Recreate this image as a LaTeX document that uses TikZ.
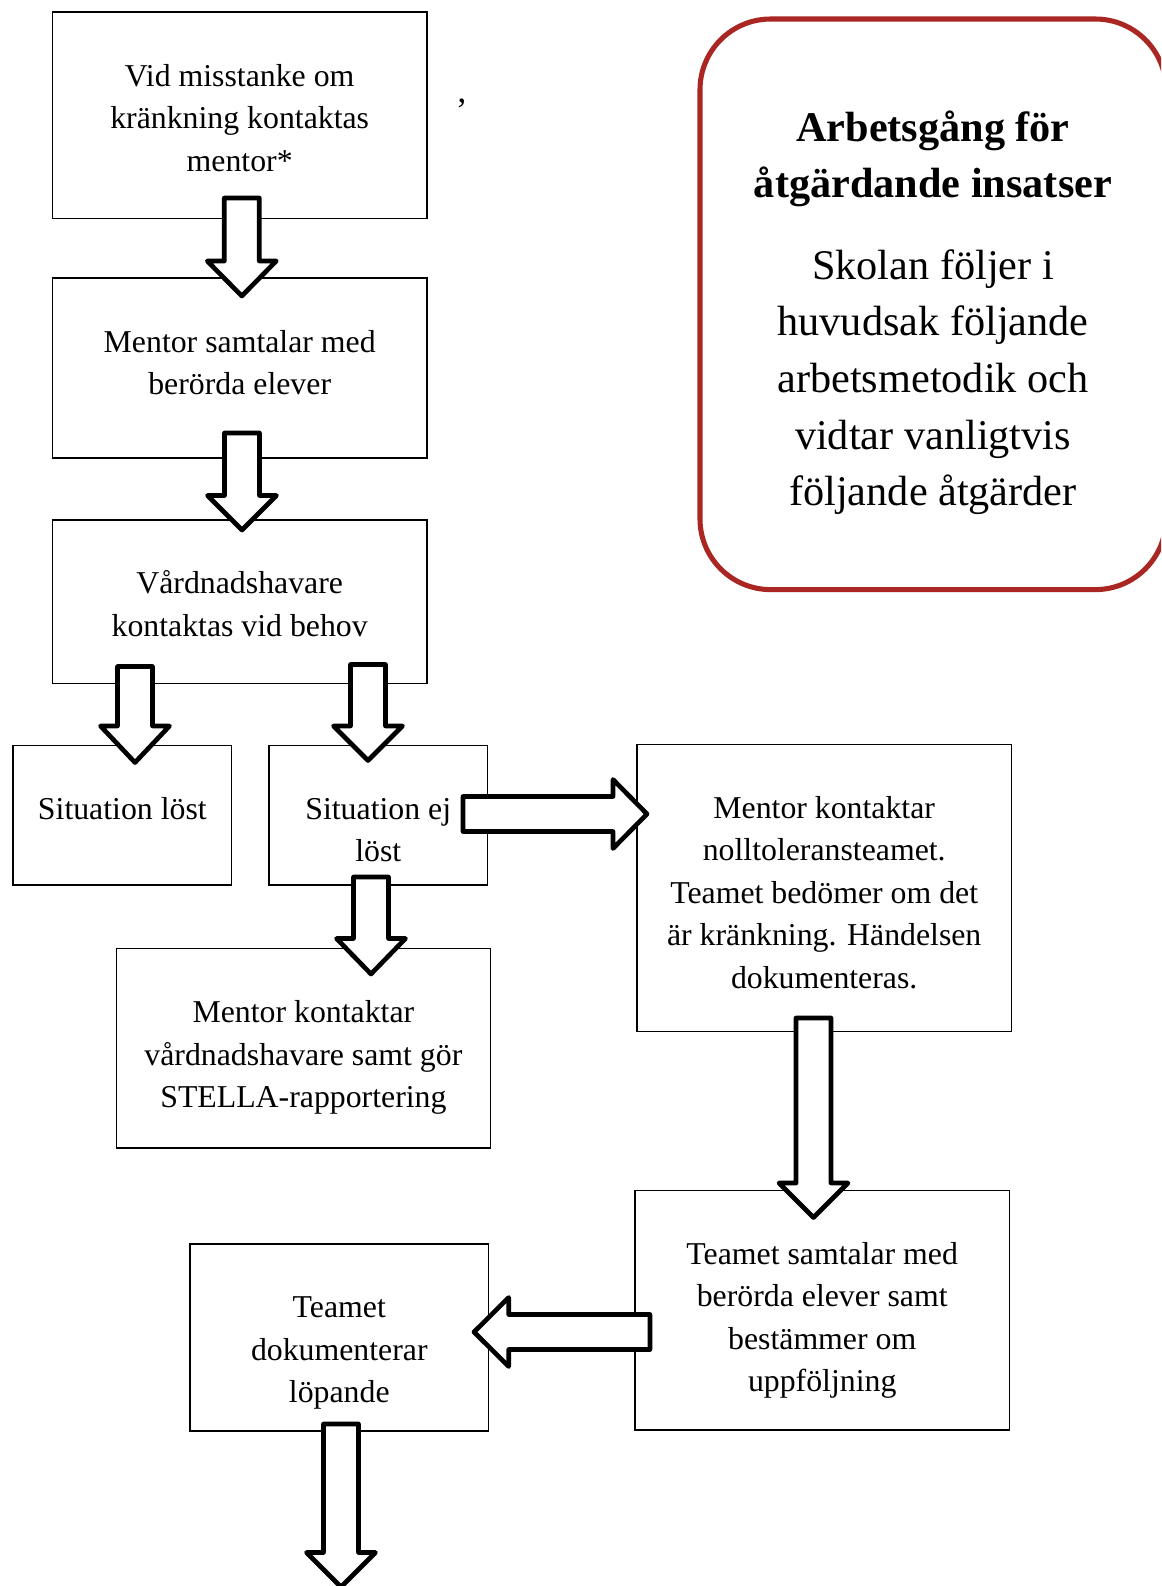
\documentclass[tikz,border=0pt]{standalone}
\usepackage{fontspec}
\setmainfont{Liberation Serif}
\usetikzlibrary{calc,fit}
\definecolor{rboxred}{RGB}{170,38,35}
\newcommand{\arrowdown}[4]{% #1 centre x, #2 top, #3 head base, #4 tip
  \draw[blockarrow] (#1-17.5,#2) -- (#1+17.5,#2) -- (#1+17.5,#3) -- (#1+34.5,#3)
    -- (#1,#4) -- (#1-34.5,#3) -- (#1-17.5,#3) -- cycle;}
\newcommand{\arrowhoriz}[4]{% #1 centre y, #2 tail x, #3 head base x, #4 tip x
  \draw[blockarrow] (#2,#1-17.5) -- (#3,#1-17.5) -- (#3,#1-34.5) -- (#4,#1)
    -- (#3,#1+34.5) -- (#3,#1+17.5) -- (#2,#1+17.5) -- cycle;}
\begin{document}
\begin{tikzpicture}[x=0.75pt,y=-0.75pt,
  box/.style={draw=black, line width=1.1pt, fill=white, inner sep=0pt, rectangle},
  txt/.style={anchor=north, inner sep=0pt, align=center, font=\fontsize{23.85}{31.9}\selectfont},
  blockarrow/.style={draw=black, fill=white, line width=3.5pt, line join=round},
  rbox/.style={draw=rboxred, line width=3.8pt, rounded corners=53pt, fill=white},
  titletxt/.style={anchor=north, inner sep=0pt, align=center, font=\fontsize{31.7}{41.7}\selectfont\bfseries},
  bodytxt/.style={anchor=north, inner sep=0pt, align=center, font=\fontsize{31.7}{42.45}\selectfont}]
\useasboundingbox (0,0) rectangle (1161,1586);
\begin{scope}
\clip (0,0) rectangle (1161,1586);
\fill[white] (0,0) rectangle (1161,1586);

% boxes
\node[box, fit={(52.6,12.1) (426.8,218.4)}] (b1) {};
\node[box, fit={(52.6,278) (426.8,458)}] (b2) {};
\node[box, fit={(52.6,519.8) (426.8,683.6)}] (b3) {};
\node[box, fit={(13.1,745.3) (231.6,884.9)}] (b4) {};
\node[box, fit={(269,745.3) (487.5,884.9)}] (b5) {};
\node[box, fit={(116.3,948.6) (490.5,1147.8)}] (b6) {};
\node[box, fit={(637.1,744.3) (1011.3,1031.5)}] (b7) {};
\node[box, fit={(635.1,1190.3) (1009.3,1430)}] (b8) {};
\node[box, fit={(190.1,1243.8) (488.5,1431)}] (b9) {};

% texts
\node[txt] (t1) at ($(b1.north)+(0,44.75)$) {\strut Vid misstanke om\\kränkning kontaktas\\mentor*};
\node[txt] (t2) at ($(b2.north)+(0,44.75)$) {\strut Mentor samtalar med\\berörda elever};
\node[txt] (t3) at ($(b3.north)+(0,44.75)$) {\strut Vårdnadshavare\\kontaktas vid behov};
\node[txt] (t4) at ($(b4.north)+(0,44.75)$) {\strut Situation löst};
\node[txt] (t5) at ($(b5.north)+(0,44.75)$) {\strut Situation ej\\löst};
\node[txt] (t6) at ($(b6.north)+(0,44.75)$) {\strut Mentor kontaktar\\vårdnadshavare samt gör\\STELLA-rapportering};
\node[txt] (t7) at ($(b7.north)+(0,44.75)$) {\strut Mentor kontaktar\\nolltoleransteamet.\\Teamet bedömer om det\\är kränkning. Händelsen\\dokumenteras.};
\node[txt] (t8) at ($(b8.north)+(0,44.75)$) {\strut Teamet samtalar med\\berörda elever samt\\bestämmer om\\uppföljning};
\node[txt] (t9) at ($(b9.north)+(0,44.75)$) {\strut Teamet\\dokumenterar\\löpande};

% stray comma
\node[inner sep=0pt, font=\fontsize{26}{31.9}\selectfont] (comma) at (462,103) {,};

% rounded info box
\draw[rbox] (700,19) rectangle (1166,589.6);
\node[titletxt] (title) at (933,102.6) {\strut Arbetsgång för\\åtgärdande insatser};
\node[bodytxt] (body) at (933,239.4) {\strut Skolan följer i\\huvudsak följande\\arbetsmetodik och\\vidtar vanligtvis\\följande åtgärder};

% block arrows
\arrowdown{241.8}{198}{261}{296}
\arrowdown{242}{433}{495.5}{530}
\arrowdown{135}{666.5}{726}{762.5}
\arrowdown{368}{664.5}{726}{760.5}
\arrowhoriz{814}{463}{613}{647}
\arrowdown{371}{877}{938.5}{974}
\arrowdown{813.5}{1018}{1183}{1217.5}
\arrowhoriz{1332}{650}{508.7}{474}
\arrowdown{341}{1424}{1552.5}{1587}
\end{scope}
\end{tikzpicture}
\end{document}
